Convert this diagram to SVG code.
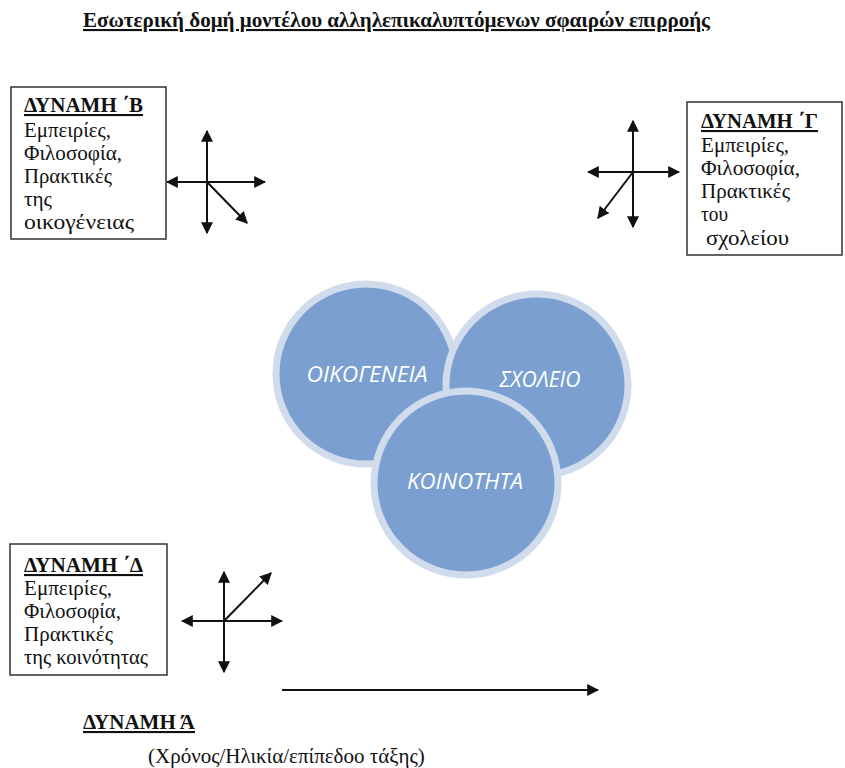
<svg xmlns="http://www.w3.org/2000/svg" width="845" height="768" viewBox="0 0 845 768">
<style>
.t{font-family:"Liberation Serif","DejaVu Serif",serif;font-size:21px;fill:#111}
.b{font-weight:bold;text-decoration:underline}
.box{fill:#fff;stroke:#333;stroke-width:1.5}
.ar{stroke:#111;stroke-width:2;fill:none;marker-end:url(#ah)}
.c{fill:#7b9fd0;stroke:#d0dbec;stroke-width:7}
.ct{font-family:"Open Sans","Liberation Sans",sans-serif;font-style:italic;font-size:22px;fill:#fff;text-anchor:middle}
</style>
<defs>
<marker id="ah" viewBox="0 0 10 10" refX="9" refY="5" markerWidth="6" markerHeight="6" markerUnits="strokeWidth" orient="auto">
<path d="M0,0 L10,5 L0,10 z" fill="#111"/>
</marker>
</defs>
<rect width="845" height="768" fill="#fff"/>
<text id="title" class="t b" x="83" y="27" font-size="18" textLength="627" lengthAdjust="spacingAndGlyphs">Εσωτερική δομή μοντέλου αλληλεπικαλυπτόμενων σφαιρών επιρροής</text>

<g id="circles">
<g id="oikogeneia"><circle class="c" cx="366" cy="374" r="90"/><text class="ct" x="367" y="382" textLength="121" lengthAdjust="spacingAndGlyphs">ΟΙΚΟΓΕΝΕΙΑ</text></g>
<g id="sxoleio"><circle class="c" cx="537" cy="385" r="91"/><text class="ct" x="540" y="387" textLength="81" lengthAdjust="spacingAndGlyphs">ΣΧΟΛΕΙΟ</text></g>
<g id="koinotita"><circle class="c" cx="466" cy="483" r="92"/><text class="ct" x="465" y="489" textLength="116" lengthAdjust="spacingAndGlyphs">ΚΟΙΝΟΤΗΤΑ</text></g>
</g>

<g id="box-b">
<rect class="box" x="11" y="87" width="155" height="152"/>
<text class="t b" x="24" y="112" textLength="119" lengthAdjust="spacingAndGlyphs">ΔΥΝΑΜΗ ΄Β</text>
<text class="t" x="24" y="137" textLength="87" lengthAdjust="spacingAndGlyphs">Εμπειρίες,</text>
<text class="t" x="24" y="160" textLength="98" lengthAdjust="spacingAndGlyphs">Φιλοσοφία,</text>
<text class="t" x="24" y="183" textLength="88" lengthAdjust="spacingAndGlyphs">Πρακτικές</text>
<text class="t" x="24" y="206" textLength="28" lengthAdjust="spacingAndGlyphs">της</text>
<text class="t" x="24" y="229" textLength="110" lengthAdjust="spacingAndGlyphs">οικογένειας</text>
</g>

<g id="box-g">
<rect class="box" x="687" y="102" width="155" height="153"/>
<text class="t b" x="701" y="128" textLength="117" lengthAdjust="spacingAndGlyphs">ΔΥΝΑΜΗ ΄Γ</text>
<text class="t" x="701" y="152" textLength="88" lengthAdjust="spacingAndGlyphs">Εμπειρίες,</text>
<text class="t" x="701" y="175" textLength="99" lengthAdjust="spacingAndGlyphs">Φιλοσοφία,</text>
<text class="t" x="701" y="198" textLength="89" lengthAdjust="spacingAndGlyphs">Πρακτικές</text>
<text class="t" x="701" y="221" textLength="27" lengthAdjust="spacingAndGlyphs">του</text>
<text class="t" x="706" y="245" textLength="83" lengthAdjust="spacingAndGlyphs">σχολείου</text>
</g>

<g id="box-d">
<rect class="box" x="10" y="544" width="157" height="131"/>
<text class="t b" x="24" y="572" textLength="119" lengthAdjust="spacingAndGlyphs">ΔΥΝΑΜΗ ΄Δ</text>
<text class="t" x="24" y="595" textLength="88" lengthAdjust="spacingAndGlyphs">Εμπειρίες,</text>
<text class="t" x="24" y="618" textLength="97" lengthAdjust="spacingAndGlyphs">Φιλοσοφία,</text>
<text class="t" x="24" y="641" textLength="89" lengthAdjust="spacingAndGlyphs">Πρακτικές</text>
<text class="t" x="24" y="664" textLength="124" lengthAdjust="spacingAndGlyphs">της κοινότητας</text>
</g>

<g id="dynami-a">
<text class="t b" x="83" y="729">ΔΥΝΑΜΗ Ά</text>
<text class="t" x="148" y="763">(Χρόνος/Ηλικία/επίπεδοο τάξης)</text>
</g>

<g id="connectors">
<line class="ar" x1="207" y1="182" x2="207" y2="131"/>
<line class="ar" x1="207" y1="182" x2="207" y2="233"/>
<line class="ar" x1="207" y1="182" x2="167" y2="182"/>
<line class="ar" x1="207" y1="182" x2="265" y2="182"/>
<line class="ar" x1="207" y1="182" x2="247" y2="223"/>

<line class="ar" x1="633" y1="172" x2="633" y2="121"/>
<line class="ar" x1="633" y1="172" x2="633" y2="227"/>
<line class="ar" x1="633" y1="172" x2="588" y2="172"/>
<line class="ar" x1="633" y1="172" x2="679" y2="172"/>
<line class="ar" x1="633" y1="172" x2="598" y2="218"/>

<line class="ar" x1="224" y1="621" x2="224" y2="572"/>
<line class="ar" x1="224" y1="621" x2="224" y2="672"/>
<line class="ar" x1="224" y1="621" x2="182" y2="621"/>
<line class="ar" x1="224" y1="621" x2="282" y2="621"/>
<line class="ar" x1="224" y1="621" x2="271" y2="573"/>

<line class="ar" x1="282" y1="690" x2="598" y2="690"/>
</g>
</svg>
